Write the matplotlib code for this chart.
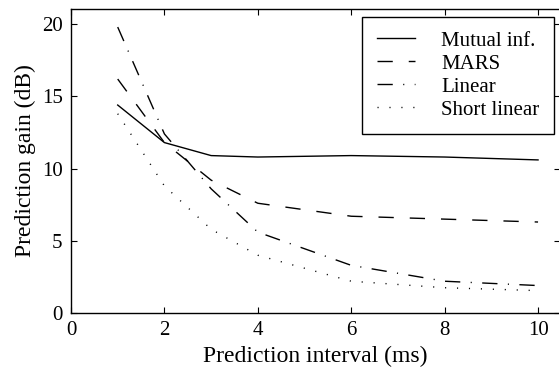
import matplotlib
matplotlib.use("Agg")
import matplotlib.pyplot as plt

plt.rcParams['font.family'] = ['Liberation Serif', 'DejaVu Serif']
plt.rcParams['lines.scale_dashes'] = False

# prediction interval (ms)
interval = [1, 2, 3, 4, 6, 8, 10]
mutual_inf = [14.4, 11.8, 10.9, 10.8, 10.9, 10.8, 10.6]
mars = [16.2, 11.8, 9.2, 7.6, 6.7, 6.5, 6.3]
linear = [19.8, 12.4, 8.6, 5.6, 3.3, 2.2, 1.9]
short_linear = [13.8, 8.8, 5.8, 4.0, 2.2, 1.75, 1.55]

fig = plt.figure(figsize=(5.59, 3.71), dpi=100)
ax = fig.add_axes([71 / 559, 58 / 371, 489 / 559, 304 / 371])

ax.plot(interval, mutual_inf, color='black', lw=1.0, label='Mutual inf.')
ax.plot(interval, mars, color='black', lw=1.0, dashes=(11, 11.5), label='MARS')
ax.plot(interval, linear, color='black', lw=1.0, dashes=(11, 7.5, 0.8, 7.5), label='Linear')
ax.plot(interval, short_linear, color='black', lw=1.0, dashes=(0.8, 7.8), label='Short linear')

ax.set_xlim(0, 10.47)
ax.set_ylim(0, 21.05)
ax.set_xticks([0, 2, 4, 6, 8, 10])
ax.set_yticks([0, 5, 10, 15, 20])
ax.tick_params(direction='in', length=4, width=0.8, labelsize=15,
               top=True, right=True, pad=6)
for s in ax.spines.values():
    s.set_linewidth(1.0)

ax.set_xlabel('Prediction interval (ms)', fontsize=17, labelpad=4)
ax.set_ylabel('Prediction gain (dB)', fontsize=17, labelpad=4)

leg = ax.legend(loc='upper right', bbox_to_anchor=(0.988, 0.975), fontsize=15,
                fancybox=False, framealpha=1, edgecolor='black',
                handlelength=1.85, handletextpad=1.25, labelspacing=0.16,
                borderpad=0.7, borderaxespad=0)
leg.get_frame().set_linewidth(1.0)

fig.savefig('out.png', dpi=100)
